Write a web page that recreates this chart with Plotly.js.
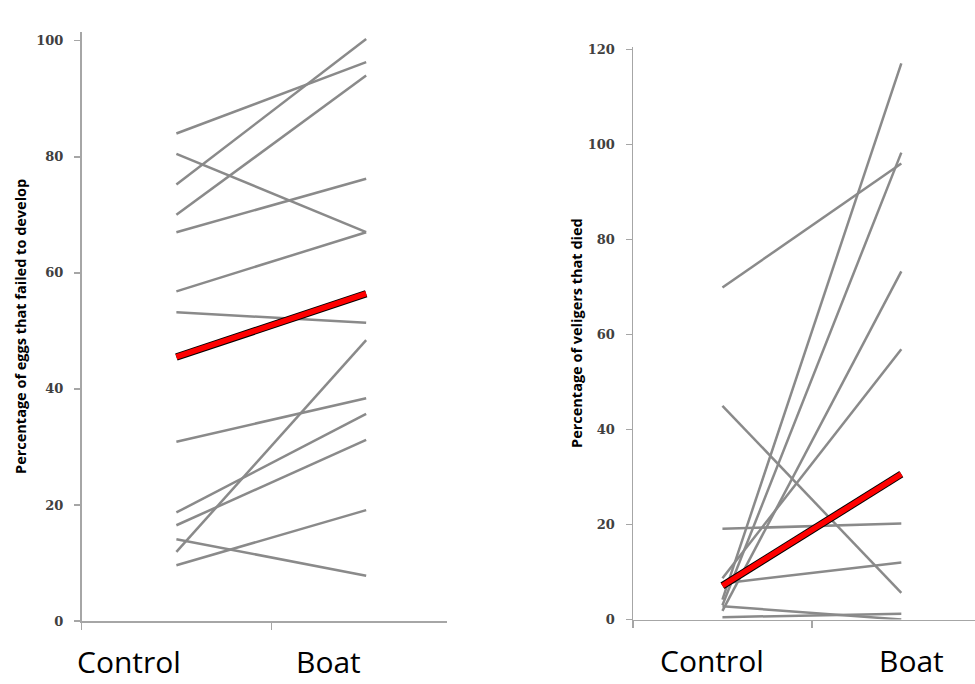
<!DOCTYPE html>
<html>
<head>
<meta charset="utf-8">
<script src="https://cdn.plot.ly/plotly-3.0.1.min.js"></script>
<style>html,body{margin:0;padding:0;background:#fff;}#chart{width:975px;height:684px;}</style>
</head>
<body>
<div id="chart"></div>
<script>
// ---- data ----
const categories = ["Control", "Boat"];

// Left panel: percentage of eggs that failed to develop (one line per replicate)
const eggsControl = [84.0, 80.5, 75.2, 70.0, 67.0, 56.8, 53.2, 30.9, 18.7, 16.5, 14.1, 11.9, 9.6];
const eggsBoat    = [96.3, 67.0, 100.3, 94.0, 76.2, 67.0, 51.4, 38.4, 35.7, 31.2, 7.8, 48.4, 19.1];
const eggsMean    = [45.5, 56.4];

// Right panel: percentage of veligers that died
const veligersControl = [69.9, 4.2, 3.0, 1.8, 8.7, 45.0, 19.1, 7.6, 2.8, 0.5];
const veligersBoat    = [96.0, 117.1, 98.3, 73.3, 56.9, 5.6, 20.2, 12.0, 0.0, 1.2];
const veligersMean    = [7.1, 30.6];

const leftTitle = "Percentage of eggs that failed to develop";
const rightTitle = "Percentage of veligers that died";
const leftTicks = [0, 20, 40, 60, 80, 100];
const rightTicks = [0, 20, 40, 60, 80, 100, 120];

// ---- build ----
const W = 975, H = 684;
const px = v => v / W;
const py = v => (H - v) / H;

const gray = {color: "#8a8a8a", width: 2.5};
const traces = [];
function addPanel(ctrl, boat, mean, xa, ya) {
  for (let i = 0; i < ctrl.length; i++) {
    traces.push({x: categories, y: [ctrl[i], boat[i]], xaxis: xa, yaxis: ya,
      type: "scatter", mode: "lines", line: gray, hoverinfo: "skip"});
  }
  traces.push({x: categories, y: mean, xaxis: xa, yaxis: ya, type: "scatter",
    mode: "lines", line: {color: "#000000", width: 7.5}, hoverinfo: "skip"});
  traces.push({x: categories, y: mean, xaxis: xa, yaxis: ya, type: "scatter",
    mode: "lines", line: {color: "#ff0000", width: 5.5}, hoverinfo: "skip"});
}
addPanel(eggsControl, eggsBoat, eggsMean, "x", "y");
addPanel(veligersControl, veligersBoat, veligersMean, "x2", "y2");

const axisLine = "#a6a6a6";
const tickFont = {family: "DejaVu Serif", size: 13, color: "#404040", weight: "bold"};
const titleFont = {family: "Open Sans", size: 14.5, color: "#000000", weight: "bold"};

function xAxis(d0, d1, r1, anchor) {
  return {domain: [d0, d1], anchor: anchor, type: "category", categoryarray: categories,
    range: [-0.5, r1], showline: true, linecolor: axisLine, linewidth: 1.5,
    ticks: "outside", tickson: "boundaries", ticklen: 7, tickcolor: axisLine, tickwidth: 1.5,
    showticklabels: false, showgrid: false, zeroline: false, fixedrange: true};
}
function yAxis(d0, d1, r1, tv, title, anchor, standoff) {
  return {domain: [d0, d1], anchor: anchor, range: [0, r1], tickvals: tv,
    showline: true, linecolor: axisLine, linewidth: 1.5, ticks: "outside", ticklen: 6,
    tickcolor: axisLine, tickwidth: 1.5, tickfont: tickFont, ticklabelstandoff: 8,
    showgrid: false, zeroline: false, fixedrange: true,
    title: {text: title, font: titleFont, standoff: standoff}};
}

const labelFont = {family: "Open Sans", size: 30, color: "#000000"};
const annotations = [
  {text: categories[0], x: px(128.5), y: 0, xref: "paper", yref: "paper", xanchor: "center", yanchor: "bottom", showarrow: false, font: labelFont},
  {text: categories[1], x: px(328), y: 0, xref: "paper", yref: "paper", xanchor: "center", yanchor: "bottom", showarrow: false, font: labelFont},
  {text: categories[0], x: px(712), y: py(660), xref: "paper", yref: "paper", xanchor: "center", yanchor: "middle", showarrow: false, font: labelFont},
  {text: categories[1], x: px(911), y: py(660), xref: "paper", yref: "paper", xanchor: "center", yanchor: "middle", showarrow: false, font: labelFont}
];

const layout = {
  width: W, height: H,
  margin: {l: 0, r: 0, t: 0, b: 0, pad: 0},
  paper_bgcolor: "#ffffff", plot_bgcolor: "rgba(0,0,0,0)",
  showlegend: false,
  xaxis: xAxis(px(81.5), px(447), 1.426, "y"),
  yaxis: yAxis(py(621), py(31.7), 101.55, leftTicks, leftTitle, "x", 6),
  xaxis2: xAxis(px(633), 1, 1.412, "y2"),
  yaxis2: yAxis(py(619.5), py(46.7), 120.6, rightTicks, rightTitle, "x2", 1),
  annotations: annotations
};

Plotly.newPlot("chart", traces, layout, {displayModeBar: false, staticPlot: true});
</script>
</body>
</html>
